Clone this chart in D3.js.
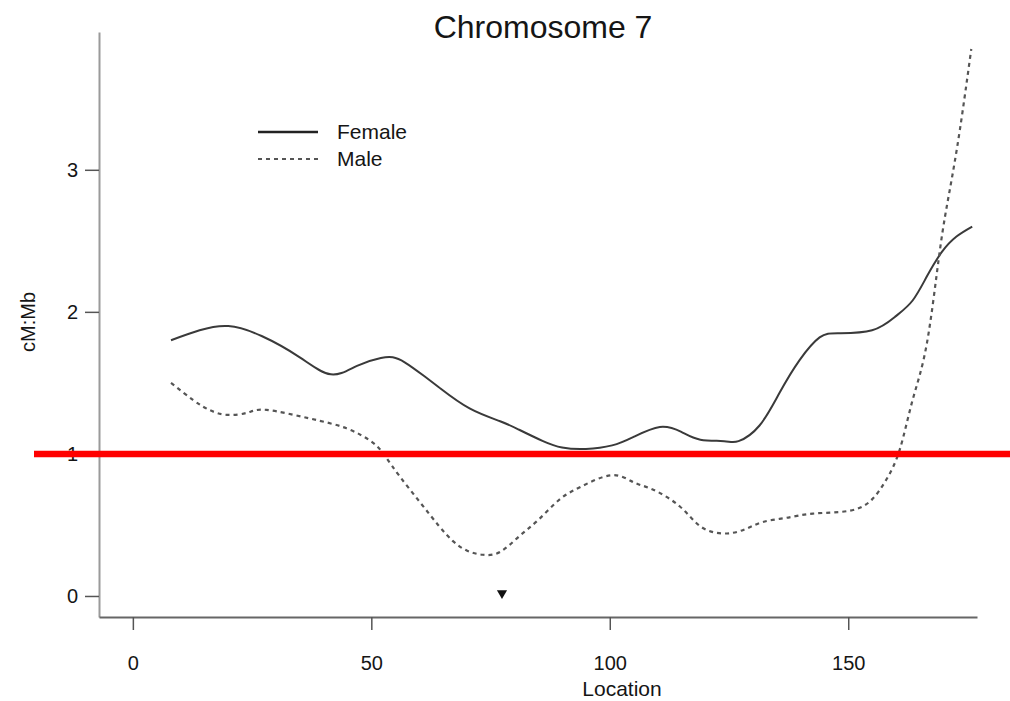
<!DOCTYPE html>
<html>
<head>
<meta charset="utf-8">
<script src="https://cdn.jsdelivr.net/npm/d3@7"></script>
<style>
  html, body { margin: 0; padding: 0; background: #fff; }
  svg { display: block; }
  text { font-family: "Liberation Sans", Arial, Helvetica, sans-serif; fill: #151515; }
</style>
</head>
<body>
<svg id="chart" width="1010" height="701"></svg>
<script>
// ---- data ----
const title = "Chromosome 7";
const xLabel = "Location";
const yLabel = "cM:Mb";
const xTicks = [0, 50, 100, 150];
const yTicks = [0, 1, 2, 3];
const seriesNames = ["Female", "Male"];

const femaleLoc = [8, 14, 20, 27, 35, 41.5, 47, 52, 54.5, 57, 61, 64.5, 70.6, 77, 81, 86, 90, 95, 100.5, 105, 110.5, 115, 119, 124, 127, 131.4, 135.6, 139.8, 144, 148, 155, 160, 163.5, 166.5, 169.6, 172.7, 176];
const femaleVal = [1.80, 1.87, 1.90, 1.83, 1.68, 1.56, 1.62, 1.675, 1.68, 1.645, 1.55, 1.46, 1.32, 1.23, 1.17, 1.09, 1.045, 1.035, 1.06, 1.12, 1.19, 1.155, 1.10, 1.09, 1.09, 1.20, 1.43, 1.66, 1.82, 1.85, 1.87, 1.97, 2.08, 2.25, 2.42, 2.53, 2.60];

const maleLoc = [8, 12.6, 16, 19.7, 24, 28, 37, 44.8, 50.3, 53, 56, 60.2, 64, 67, 70, 73.4, 77, 81, 85, 89.5, 94, 100.4, 105, 109, 114.7, 119, 123.7, 128, 132, 137, 142.6, 150.3, 155, 158, 160.8, 163.5, 166.5, 169.2, 171.3, 173.4, 175.8];
const maleVal = [1.50, 1.38, 1.31, 1.275, 1.29, 1.31, 1.25, 1.18, 1.08, 0.98, 0.84, 0.66, 0.50, 0.39, 0.32, 0.29, 0.31, 0.42, 0.535, 0.68, 0.77, 0.85, 0.80, 0.75, 0.63, 0.49, 0.44, 0.465, 0.52, 0.55, 0.58, 0.60, 0.68, 0.82, 1.03, 1.38, 1.78, 2.43, 2.86, 3.28, 3.85];

const refLineValue = 1;
const markerLoc = 77.4;
const markerVal = 0.02;

// ---- scales ----
const svg = d3.select("#chart");
const x = d3.scaleLinear().domain([-7.1, 177]).range([99, 977]);
const y = d3.scaleLinear().domain([-0.148, 3.97]).range([617, 32]);

// ---- axes ----
const yAxis = svg.append("g")
  .attr("transform", `translate(${x(-7.1)},0)`)
  .call(d3.axisLeft(y).tickValues(yTicks).tickFormat(d3.format("d")).tickSize(14).tickSizeOuter(0).tickPadding(7));
yAxis.select(".domain").attr("stroke", "#9a9a9a").attr("stroke-width", 2);
yAxis.selectAll(".tick line").attr("stroke", "#555").attr("stroke-width", 1.5);
yAxis.selectAll(".tick text").style("font-size", "20px").attr("fill", "#151515");

const xAxis = svg.append("g")
  .attr("transform", `translate(0,${y(-0.148)})`)
  .call(d3.axisBottom(x).tickValues(xTicks).tickFormat(d3.format("d")).tickSize(13).tickSizeOuter(0).tickPadding(26));
xAxis.select(".domain").attr("stroke", "#666").attr("stroke-width", 2);
xAxis.selectAll(".tick line").attr("stroke", "#555").attr("stroke-width", 1.5);
xAxis.selectAll(".tick text").style("font-size", "20px").attr("fill", "#151515");

// ---- lines ----
const line = d3.line().x(d => x(d[0])).y(d => y(d[1])).curve(d3.curveNatural);
const female = femaleLoc.map((l, i) => [l, femaleVal[i]]);
const male = maleLoc.map((l, i) => [l, maleVal[i]]);

svg.append("path").datum(female).attr("d", line)
  .attr("fill", "none").attr("stroke", "#3a3a3a").attr("stroke-width", 2);
svg.append("path").datum(male).attr("d", line)
  .attr("fill", "none").attr("stroke", "#555").attr("stroke-width", 2.2).attr("stroke-dasharray", "4,4");

// ---- marker ----
svg.append("path")
  .attr("d", d3.symbol().type(d3.symbolTriangle).size(45)())
  .attr("transform", `translate(${x(markerLoc)},${y(markerVal)}) rotate(180)`)
  .attr("fill", "#111");

// ---- reference line ----
svg.append("line")
  .attr("x1", 34).attr("x2", 1010)
  .attr("y1", y(refLineValue)).attr("y2", y(refLineValue))
  .attr("stroke", "#ff0000").attr("stroke-width", 6.5);

// ---- legend ----
const legend = svg.append("g");
const legendStyles = [{ dash: null }, { dash: "4,4" }];
seriesNames.forEach((name, i) => {
  const ly = 132 + i * 27;
  legend.append("line").attr("x1", 258).attr("x2", 318).attr("y1", ly).attr("y2", ly)
    .attr("stroke", i === 0 ? "#222" : "#555").attr("stroke-width", i === 0 ? 2.5 : 2)
    .attr("stroke-dasharray", legendStyles[i].dash);
  legend.append("text").attr("x", 337).attr("y", ly + 7).style("font-size", "21px").text(name);
});

// ---- titles ----
svg.append("text").attr("x", 543).attr("y", 38).attr("text-anchor", "middle")
  .style("font-size", "32px").text(title);
svg.append("text").attr("x", 622).attr("y", 696).attr("text-anchor", "middle")
  .style("font-size", "21px").text(xLabel);
svg.append("text").attr("transform", "translate(35,322) rotate(-90)").attr("text-anchor", "middle")
  .style("font-size", "20px").text(yLabel);
</script>
</body>
</html>
